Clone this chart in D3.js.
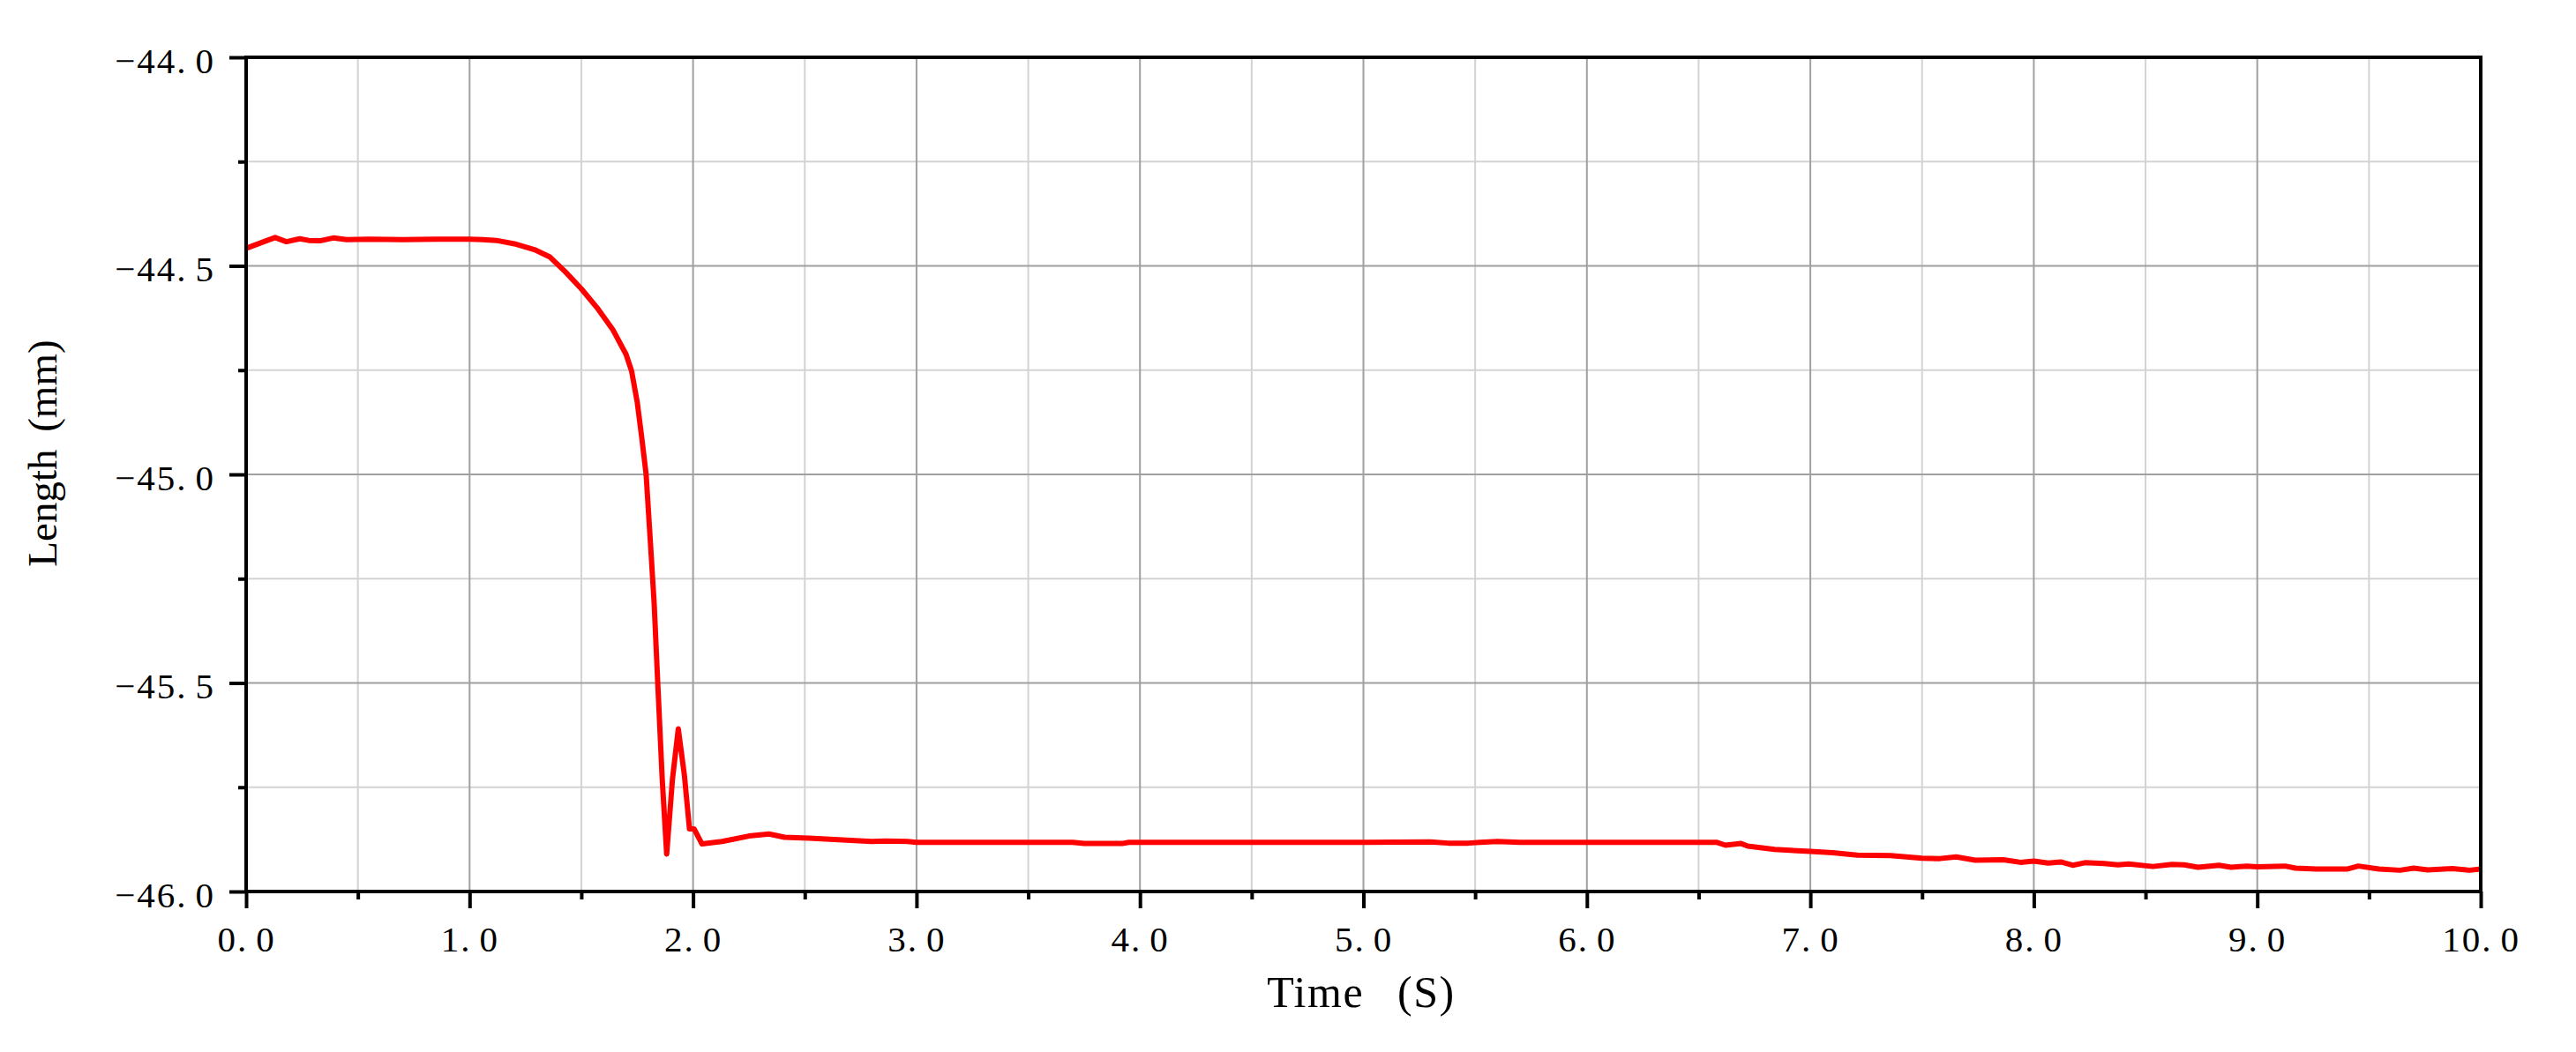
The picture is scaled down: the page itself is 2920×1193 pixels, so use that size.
<!DOCTYPE html>
<html>
<head>
<meta charset="utf-8">
<script src="https://cdn.jsdelivr.net/npm/d3@7"></script>
<style>
  html, body { margin: 0; padding: 0; background: #ffffff; }
  svg { display: block; }
</style>
</head>
<body>
<svg id="chart" width="2920" height="1193"></svg>
<script>
// ---------------- data ----------------
const time = [
  0.00, 0.05, 0.10, 0.13, 0.18, 0.24, 0.28, 0.33, 0.39, 0.45, 0.55, 0.70, 0.85, 1.00,
  1.06, 1.12, 1.20, 1.29, 1.36, 1.43, 1.50, 1.57, 1.64, 1.70, 1.725, 1.75, 1.77, 1.79,
  1.81, 1.826, 1.842, 1.862, 1.882, 1.908, 1.934, 1.961, 1.984, 2.005, 2.04, 2.13, 2.25,
  2.34, 2.41, 2.52, 2.65, 2.80, 2.86, 2.96, 3.00, 3.70, 3.75, 3.92, 3.95, 4.50, 5.00,
  5.30, 5.38, 5.47, 5.52, 5.60, 5.70, 6.00, 6.58, 6.62, 6.69, 6.72, 6.84, 7.00, 7.10,
  7.21, 7.36, 7.50, 7.58, 7.653, 7.738, 7.863, 7.94, 8.00, 8.065, 8.12, 8.174, 8.229,
  8.315, 8.377, 8.424, 8.533, 8.618, 8.673, 8.735, 8.829, 8.883, 8.953, 9.00, 9.125,
  9.171, 9.265, 9.405, 9.452, 9.545, 9.639, 9.70, 9.763, 9.872, 9.95, 10.0
];
const lengthMm = [
  -44.458, -44.448, -44.438, -44.432, -44.442, -44.435, -44.439, -44.440, -44.433, -44.437, -44.436, -44.437, -44.436, -44.436,
  -44.437, -44.439, -44.447, -44.461, -44.479, -44.515, -44.555, -44.600, -44.652, -44.712, -44.752, -44.826, -44.910, -45.000,
  -45.170, -45.310, -45.500, -45.730, -45.910, -45.730, -45.610, -45.720, -45.850, -45.850, -45.886, -45.880, -45.867,
  -45.862, -45.870, -45.872, -45.876, -45.880, -45.879, -45.880, -45.882, -45.882, -45.885, -45.885, -45.882, -45.882, -45.882,
  -45.881, -45.884, -45.884, -45.882, -45.880, -45.882, -45.882, -45.882, -45.889, -45.885, -45.891, -45.899, -45.904, -45.907,
  -45.913, -45.914, -45.920, -45.921, -45.917, -45.925, -45.924, -45.930, -45.927, -45.932, -45.929, -45.937, -45.931,
  -45.933, -45.936, -45.934, -45.940, -45.935, -45.936, -45.942, -45.937, -45.942, -45.939, -45.941, -45.939,
  -45.944, -45.946, -45.946, -45.939, -45.946, -45.949, -45.944, -45.948, -45.945, -45.949, -45.946
];

const xDomain = [0, 10];
const yDomain = [-46, -44];
const xMajorTicks = [0, 1, 2, 3, 4, 5, 6, 7, 8, 9, 10];
const xTickLabels = ["0.0", "1.0", "2.0", "3.0", "4.0", "5.0", "6.0", "7.0", "8.0", "9.0", "10.0"];
const xMinorTicks = [0.5, 1.5, 2.5, 3.5, 4.5, 5.5, 6.5, 7.5, 8.5, 9.5];
const yMajorTicks = [-44.0, -44.5, -45.0, -45.5, -46.0];
const yTickLabels = ["\u221244.0", "\u221244.5", "\u221245.0", "\u221245.5", "\u221246.0"];
const yMinorTicks = [-44.25, -44.75, -45.25, -45.75];
const xTitle = "Time (S)";
const yTitle = "Length (mm)";

// ---------------- layout ----------------
const W = 2920, H = 1193;
const margin = { left: 279, right: W - 2812, top: 65, bottom: H - 1011 };
const pw = W - margin.left - margin.right;
const ph = H - margin.top - margin.bottom;

const svg = d3.select("#chart");
svg.append("rect").attr("width", W).attr("height", H).attr("fill", "#ffffff");
const g = svg.append("g").attr("transform", `translate(${margin.left},${margin.top})`);

const x = d3.scaleLinear().domain(xDomain).range([0, pw]);
const y = d3.scaleLinear().domain(yDomain).range([ph, 0]);

const FONT = "'Liberation Serif', 'Times New Roman', serif";

// ---------------- grid ----------------
const grid = g.append("g");
grid.selectAll(".vminor").data(xMinorTicks).join("line")
  .attr("x1", d => x(d)).attr("x2", d => x(d)).attr("y1", 0).attr("y2", ph)
  .attr("stroke", "#d3d3d3").attr("stroke-width", 2);
grid.selectAll(".hminor").data(yMinorTicks).join("line")
  .attr("x1", 0).attr("x2", pw).attr("y1", d => y(d)).attr("y2", d => y(d))
  .attr("stroke", "#d3d3d3").attr("stroke-width", 2);
grid.selectAll(".vmajor").data(xMajorTicks.slice(1, -1)).join("line")
  .attr("x1", d => x(d)).attr("x2", d => x(d)).attr("y1", 0).attr("y2", ph)
  .attr("stroke", "#a0a0a0").attr("stroke-width", 2);
grid.selectAll(".hmajor").data(yMajorTicks.slice(1, -1)).join("line")
  .attr("x1", 0).attr("x2", pw).attr("y1", d => y(d)).attr("y2", d => y(d))
  .attr("stroke", "#a0a0a0").attr("stroke-width", 2);

// ---------------- line ----------------
const pts = time.map((t, i) => [t, lengthMm[i]]);
const line = d3.line().x(d => x(d[0])).y(d => y(d[1]));
g.append("path").datum(pts)
  .attr("d", line)
  .attr("fill", "none")
  .attr("stroke", "#ff0000")
  .attr("stroke-width", 6)
  .attr("stroke-linejoin", "round");

// ---------------- axes ----------------
function styleAxis(sel) {
  sel.select(".domain").remove();
  sel.selectAll(".tick line").attr("stroke", "#000").attr("stroke-width", 4);
  sel.selectAll(".tick text")
    .attr("fill", "#000")
    .style("font-family", FONT)
    .style("font-size", "41px")
    .style("letter-spacing", "2px");
}
// split "44.0" so the decimal digit sits a little apart, as in the source
function spacedLabel(sel) {
  sel.selectAll(".tick text").each(function () {
    const t = d3.select(this);
    const s = t.text();
    const k = s.indexOf(".");
    t.text("");
    t.append("tspan").text(s.slice(0, k + 1));
    t.append("tspan").attr("dx", 9).text(s.slice(k + 1));
  });
}

// minor ticks
g.append("g").attr("transform", `translate(0,${ph})`)
  .call(d3.axisBottom(x).tickValues(xMinorTicks).tickSize(9).tickFormat(""))
  .call(styleAxis);
g.append("g")
  .call(d3.axisLeft(y).tickValues(yMinorTicks).tickSize(9).tickFormat(""))
  .call(styleAxis);

// major ticks
g.append("g").attr("transform", `translate(0,${ph})`)
  .call(d3.axisBottom(x).tickValues(xMajorTicks).tickSize(19).tickPadding(20)
    .tickFormat((d, i) => xTickLabels[i]))
  .call(styleAxis)
  .call(spacedLabel);
const ya = g.append("g")
  .call(d3.axisLeft(y).tickValues(yMajorTicks).tickSize(19).tickPadding(16)
    .tickFormat((d, i) => yTickLabels[i]))
  .call(styleAxis)
  .call(spacedLabel);
ya.selectAll(".tick text").attr("dy", "0.42em");

// frame
g.append("rect")
  .attr("x", 0).attr("y", 0).attr("width", pw).attr("height", ph)
  .attr("fill", "none").attr("stroke", "#000").attr("stroke-width", 4);

// ---------------- titles ----------------
svg.append("text")
  .attr("x", 1543).attr("y", 1142)
  .attr("text-anchor", "middle")
  .style("font-family", FONT).style("font-size", "50px")
  .style("letter-spacing", "1.5px").style("word-spacing", "24px")
  .attr("fill", "#000")
  .text(xTitle);

svg.append("text")
  .attr("transform", "translate(64,514) rotate(-90)")
  .attr("text-anchor", "middle")
  .style("font-family", FONT).style("font-size", "47px")
  .style("word-spacing", "8px")
  .attr("fill", "#000")
  .text(yTitle);
</script>
</body>
</html>
